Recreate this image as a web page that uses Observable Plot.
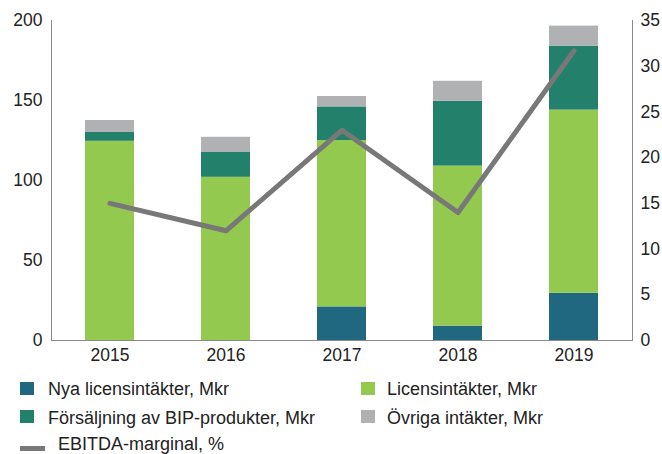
<!DOCTYPE html>
<html>
<head>
<meta charset="utf-8">
<script src="https://cdn.jsdelivr.net/npm/d3@7"></script>
<script src="https://cdn.jsdelivr.net/npm/@observablehq/plot@0.6"></script>
<style>
  body { margin: 0; background: #fff; font-family: "Liberation Sans", Arial, sans-serif; }
  #wrap { position: relative; width: 662px; height: 454px; overflow: hidden; }
  .leg { position: absolute; font-size: 18px; color: #222; white-space: nowrap; line-height: 20px; }
  .sw { position: absolute; width: 14px; height: 13px; }
</style>
</head>
<body>
<div id="wrap"></div>
<script>
const years = ["2015", "2016", "2017", "2018", "2019"];
const nyaLicens = [0, 0, 21, 9, 29.5];
const licens = [124.5, 102, 104, 100, 114.5];
const bip = [5.5, 15.5, 21, 40.5, 40];
const ovriga = [7.5, 9.5, 6.5, 12.5, 12.5];
const ebitda = [15, 12, 23, 14, 31.7];

const seriesNames = ["Nya licensintäkter, Mkr", "Licensintäkter, Mkr", "Försäljning av BIP-produkter, Mkr", "Övriga intäkter, Mkr"];
const seriesColors = ["#1f6880", "#93c94f", "#23806b", "#b0b1b3"];
const lineName = "EBITDA-marginal, %";
const lineColor = "#787878";
const leftTicks = [0, 50, 100, 150, 200];
const rightTicks = [0, 5, 10, 15, 20, 25, 30, 35];
const leftMax = 200, rightMax = 35;

const seriesValues = [nyaLicens, licens, bip, ovriga];
const barData = [];
seriesNames.forEach((s, si) => years.forEach((y, i) => barData.push({year: y, series: s, value: seriesValues[si][i]})));
const lineData = years.map((y, i) => ({year: y, value: ebitda[i]}));
const toLeft = v => v * leftMax / rightMax;

const font = '"Liberation Sans", Arial, sans-serif';
const fs = 17.5;
const chart = Plot.plot({
  width: 662,
  height: 365,
  marginLeft: 51,
  marginRight: 30,
  marginTop: 20,
  marginBottom: 25,
  style: {fontFamily: font, fontSize: fs + "px", color: "#222", background: "#fff"},
  x: {domain: years, paddingInner: 0.578, paddingOuter: 0.293, label: null},
  y: {domain: [0, leftMax], label: null},
  color: {domain: seriesNames, range: seriesColors},
  marks: [
    Plot.barY(barData, {x: "year", y: "value", fill: "series", order: seriesNames}),
    Plot.line(lineData, {x: "year", y: d => toLeft(d.value), stroke: lineColor, strokeWidth: 5}),
    Plot.axisX({tickSize: 0, tickPadding: 8, label: null, fontSize: fs}),
    Plot.axisY(leftTicks, {anchor: "left", tickSize: 0, tickPadding: 9, label: null, fontSize: fs}),
    Plot.axisY(rightTicks.map(toLeft), {anchor: "right", tickSize: 0, tickPadding: 8, label: null, fontSize: fs,
      tickFormat: d => String(Math.round(d * rightMax / leftMax))}),
    Plot.frame({anchor: "left", stroke: "#8a8a8a"}),
    Plot.frame({anchor: "right", stroke: "#8a8a8a"}),
    Plot.ruleY([0], {stroke: "#8a8a8a"})
  ]
});
const wrap = document.getElementById("wrap");
wrap.appendChild(chart);

const legendItems = [
  {name: seriesNames[0], color: seriesColors[0], x: 20, y: 382, tx: 48, ty: 379},
  {name: seriesNames[1], color: seriesColors[1], x: 361, y: 382, tx: 387, ty: 379},
  {name: seriesNames[2], color: seriesColors[2], x: 20, y: 410, tx: 48, ty: 407.5},
  {name: seriesNames[3], color: seriesColors[3], x: 361, y: 410, tx: 387, ty: 407.5}
];
legendItems.forEach(it => {
  const sw = document.createElement("div");
  sw.className = "sw";
  sw.style.left = it.x + "px";
  sw.style.top = it.y + "px";
  sw.style.background = it.color;
  wrap.appendChild(sw);
  const t = document.createElement("div");
  t.className = "leg";
  t.style.left = it.tx + "px";
  t.style.top = it.ty + "px";
  t.textContent = it.name;
  wrap.appendChild(t);
});
const ln = document.createElement("div");
ln.style.cssText = `position:absolute;left:20px;top:446px;width:25px;height:5px;background:${lineColor}`;
wrap.appendChild(ln);
const lt = document.createElement("div");
lt.className = "leg";
lt.style.left = "58px";
lt.style.top = "435.5px";
lt.style.lineHeight = "17px";
lt.textContent = lineName;
wrap.appendChild(lt);
</script>
</body>
</html>
